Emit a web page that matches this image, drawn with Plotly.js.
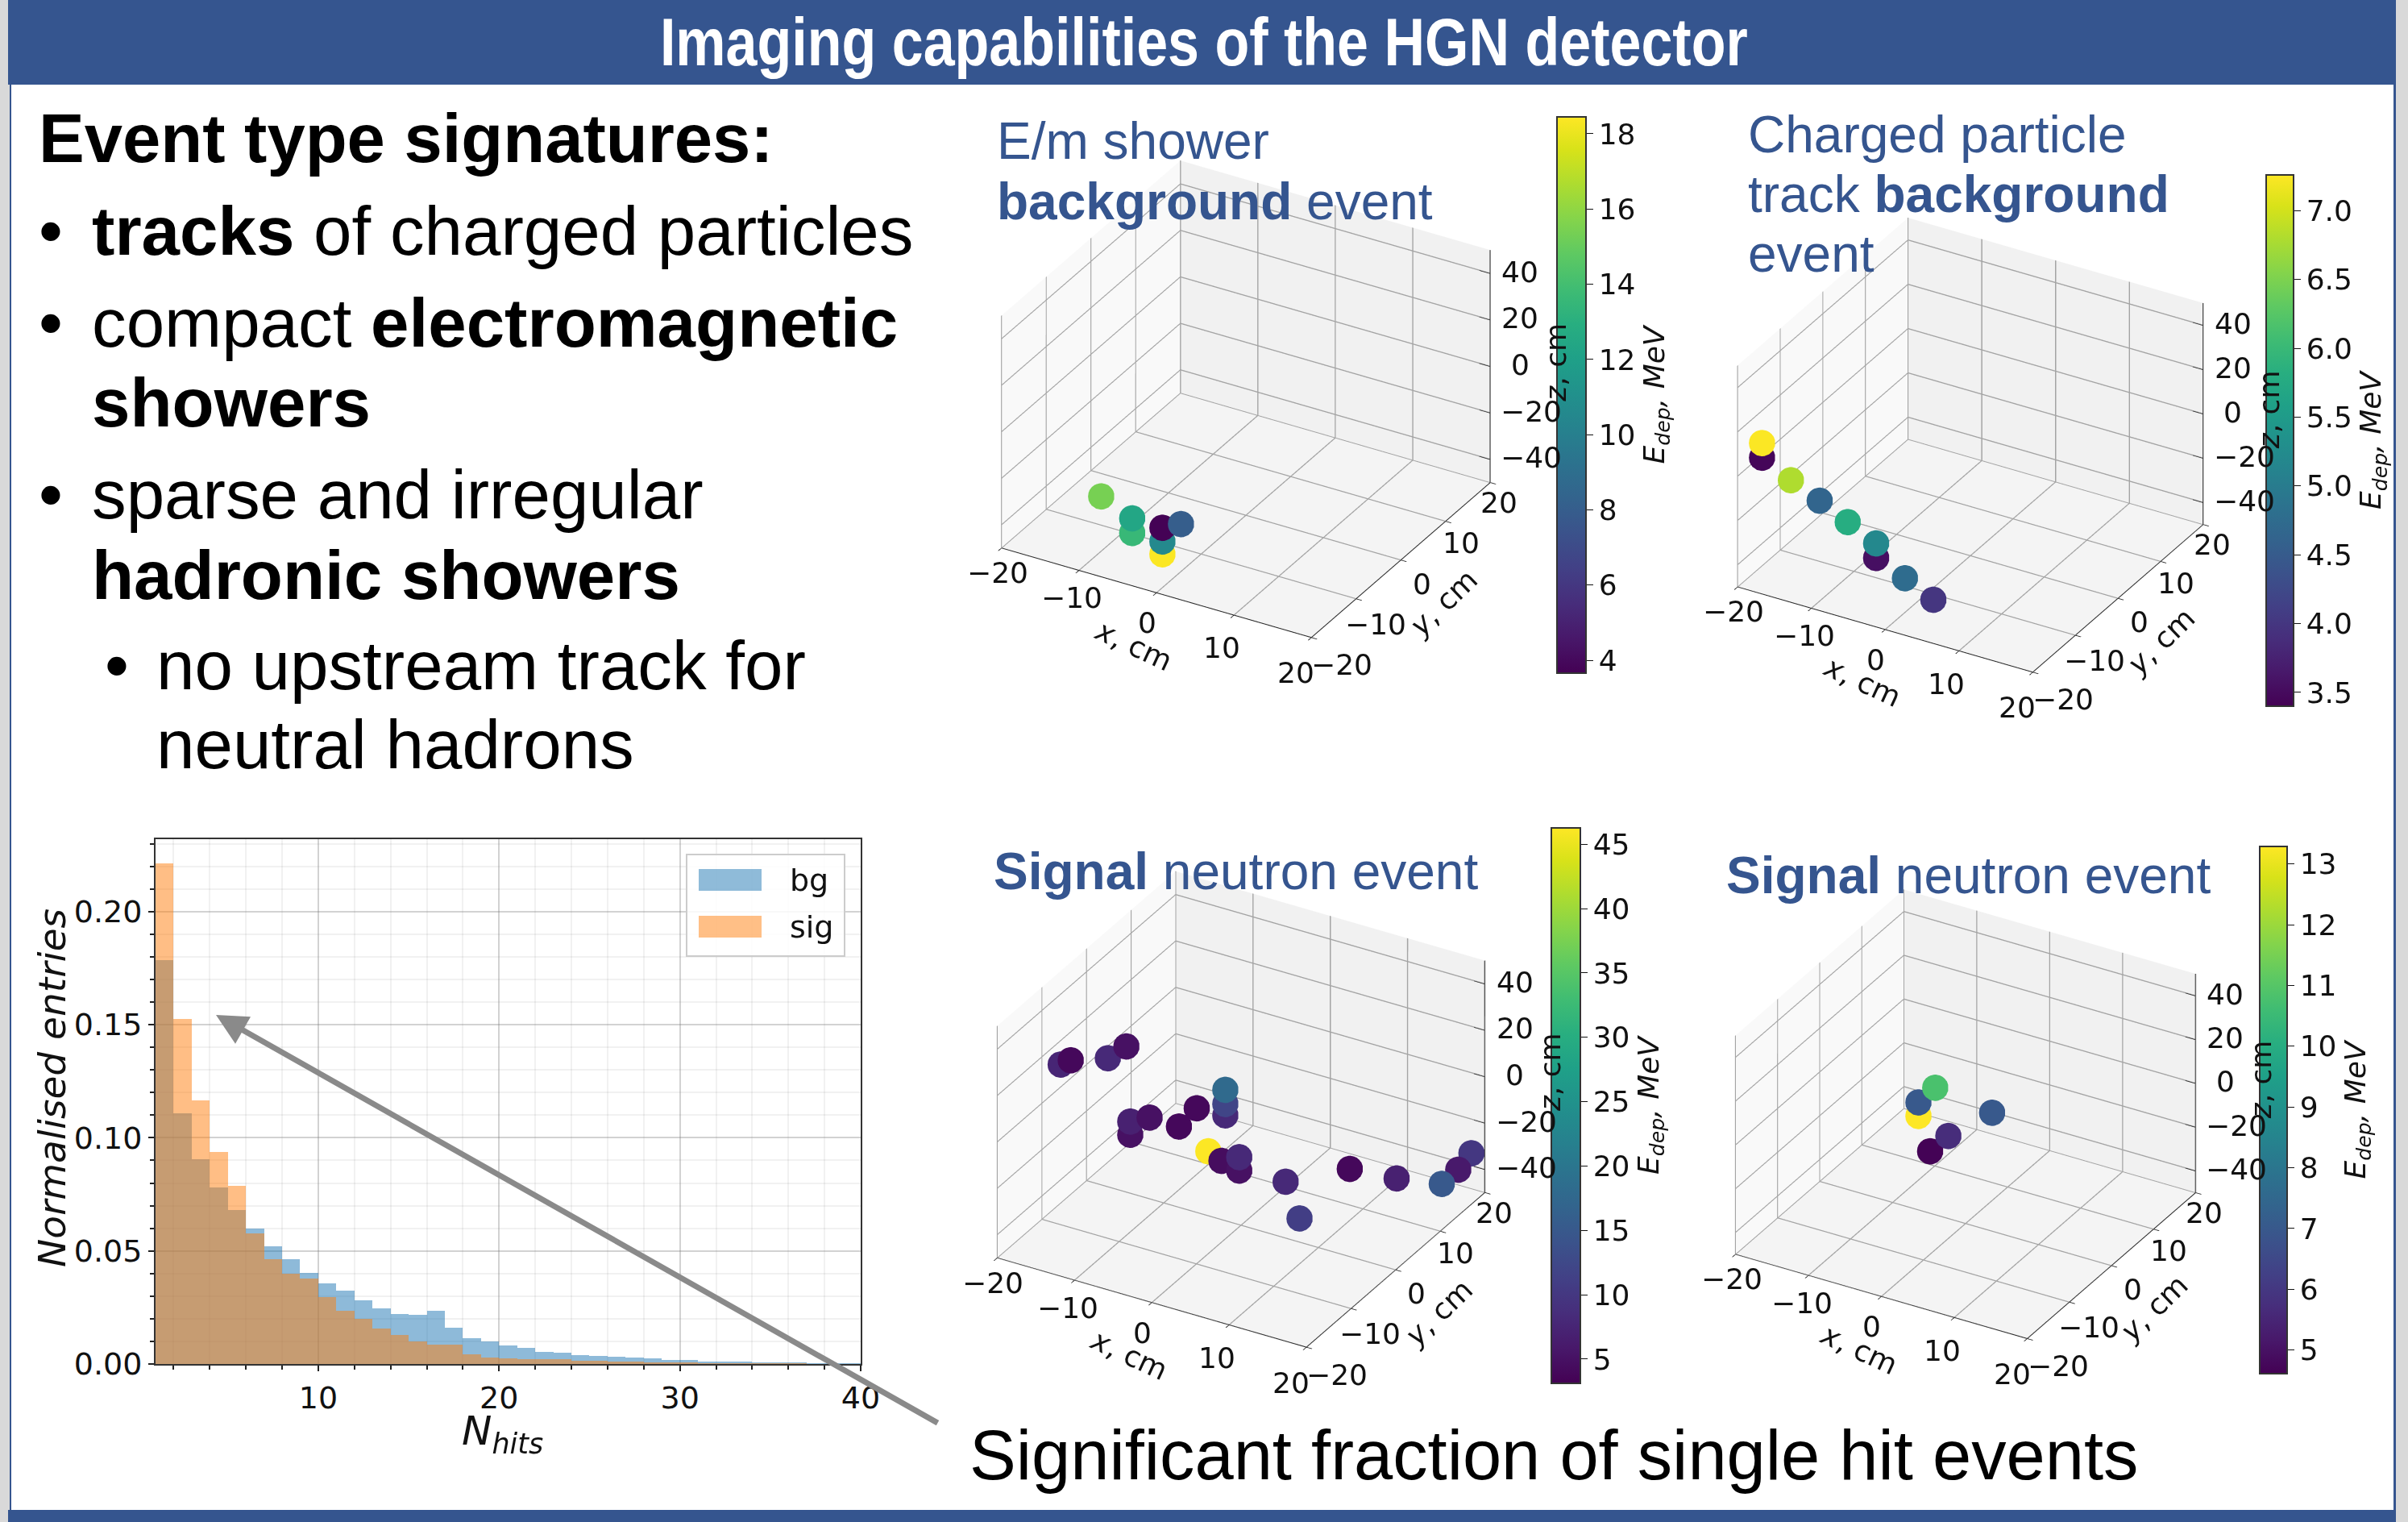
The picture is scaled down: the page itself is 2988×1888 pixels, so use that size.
<!DOCTYPE html>
<html><head><meta charset="utf-8">
<script src="https://cdn.plot.ly/plotly-3.0.1.min.js"></script>
<style>html,body{margin:0;padding:0;background:#fff}</style></head>
<body><div id="chart" style="width:2988px;height:1888px"></div>
<script>
const W=2988,H=1888;
const binStart=[1,2,3,4,5,6,7,8,9,10,11,12,13,14,15,16,17,18,19,20,21,22,23,24,25,26,27,28,29,30,31,32,33,34,35,36,37,38,39];
const bgValues=[0.1786,0.111,0.0905,0.078,0.0681,0.0598,0.0519,0.0463,0.0402,0.0356,0.0323,0.0281,0.0246,0.022,0.0216,0.0236,0.016,0.0115,0.0099,0.0081,0.0071,0.0055,0.0051,0.0038,0.0034,0.0032,0.0028,0.0024,0.0018,0.0018,0.0012,0.0012,0.001,0.0006,0.0004,0.0004,0.0003,0.0002,0.0001];
const sigValues=[0.2212,0.1525,0.1166,0.0939,0.0786,0.0576,0.0465,0.04,0.0378,0.0297,0.0234,0.0198,0.0156,0.0127,0.0101,0.0087,0.0087,0.0042,0.003,0.0026,0.002,0.002,0.002,0.0014,0.0014,0.0012,0.001,0.0008,0.0006,0.0004,0.0003,0.0002,0.0002,0.0001,0.0001,0.0001,0,0,0];

const emX=[-1.0,-1.0,-1.0,-4.9,-4.9,-8.9,1.4];
const emY=[-17,-17,-17,-17,-17,-17,-17];
const emZ=[-39.2,-33.7,-27.8,-33.8,-27.5,-21.9,-23.9];
const emE=[18.4,10.6,3.7,13.6,12.4,15.4,8];

const trX=[-17.3,-17.3,-15.7,-11.8,-8,-4.15,-4.15,-0.25,3.6];
const trY=[-19,-19,-15,-15,-15,-15,-15,-15,-15];
const trZ=[9.5,16.1,-5.8,-11.3,-17.3,-23.2,-29.8,-35.2,-41.2];
const trE=[3.45,7.25,6.8,4.65,5.8,5.2,3.55,4.75,4.0];

const s1X=[-17.6,-16.3,-11.5,-9.1,3.7,3.7,3.7,0,-6.1,-8.6,-8.6,-2.3,1.5,3.2,5.5,5.5,11.5,19.8,17.2,19.4,19.95,19,13.3];
const s1Y=[-10,-10,-10,-10,-10,-10,-10,-10,-10,-10,-10,-10,-10,-10,-10,-10,-10,-10,5,15,17,12,-10];
const s1Z=[19.2,22.3,27.8,35.2,17.8,22.7,28.8,17.3,7.4,3.3,-2.4,7.2,0.2,-2.3,1.5,-4.3,-3.3,10.2,-21.4,-32.2,-27.9,-33.7,-17.4];
const s1E=[7.5,4,8,5,8,12,18,4,5,7,5,4,46.2,4.5,8,5,8,4,7,6,10,15,11];

const s2X=[-4.2,-6.5,-6.5,3.6,-2.4,-4.9];
const s2Y=[0,0,0,0,0,0];
const s2Z=[8.2,-0.7,-6.9,4.3,-12.1,-21.5];
const s2E=[10.8,7,13.29,7,5.7,4.65];

const cbTicks1=[4,6,8,10,12,14,16,18];
const cbTicks2=[3.5,4,4.5,5,5.5,6,6.5,7];
const cbTicks3=[5,10,15,20,25,30,35,40,45];
const cbTicks4=[5,6,7,8,9,10,11,12,13];
const xyTicks=[-20,-10,0,10,20];
const zTicks=[-40,-20,0,20,40];

const BLUE='#35558f';
const px=x=>x/W, py=y=>1-y/H;
const EYE_NORM=2.0;
const eye={x:0.433*EYE_NORM,y:-0.75*EYE_NORM,z:0.5*EYE_NORM};
const lab=v=>String(v).replace('-','\u2212');
const TF={family:'DejaVu Sans',size:36,color:'#111'};
const yLabelShift={'-20':38,'-10':24,'0':26,'10':19,'20':11};

function sceneAnnots(){
  const out=[];
  const a=(x,y,z,text,xs,ys,extra)=>out.push(Object.assign({x:x,y:y,z:z,text:text,showarrow:false,xshift:xs,yshift:-ys,xanchor:'center',yanchor:'middle',font:TF},extra||{}));
  xyTicks.forEach(v=>a(v,-20,-50,lab(v),-12-v*0.35,44-(20-v)*0.33));
  xyTicks.forEach(v=>a(20,v,-50,lab(v),yLabelShift[v],40-(10.5+v*0.225)));
  zTicks.forEach(v=>a(20,20,v,lab(v),v<0?51:37,-2));
  a(0,-20,-50,'<i>x</i>, cm',-28,65,{textangle:25});
  a(20,0,-50,'<i>y</i>, cm',53,53,{textangle:-44});
  a(20,20,0,'<i>z</i>, cm',81,-5,{textangle:-90});
  return out;
}
function scene(cx,cy,half){
  const ax=(ticks,range,bg,line)=>({title:{text:''},showticklabels:false,
    range:range,tickvals:ticks,showbackground:true,backgroundcolor:bg,
    gridcolor:'#a4a4a4',gridwidth:3,zeroline:false,showline:line,linecolor:'#222',linewidth:2,
    ticks:line?'outside':'',ticklen:8,tickcolor:'#222',tickwidth:2,showspikes:false});
  return {domain:{x:[px(cx-half),px(cx+half)],y:[py(cy+half),py(cy-half)]},
    bgcolor:'rgba(0,0,0,0)',
    aspectmode:'manual',aspectratio:{x:1,y:1,z:0.75},
    camera:{eye:eye,center:{x:0,y:0,z:0},up:{x:0,y:0,z:1},projection:{type:'orthographic'}},
    xaxis:ax(xyTicks,[-20,20],'#f9f9f9',true),
    yaxis:ax(xyTicks,[-20,20],'#f1f1f1',true),
    zaxis:ax(zTicks,[-50,50],'#f4f4f4',false),
    annotations:sceneAnnots()};
}
function zAxisTrace(sc){
  const X=[20],Y=[20],Z=[-50];
  X.push(20);Y.push(20);Z.push(50);X.push(null);Y.push(null);Z.push(null);
  zTicks.forEach(v=>{X.push(18.6,20,null);Y.push(20,20,null);Z.push(v,v,null);});
  return {type:'scatter3d',mode:'lines',scene:sc,x:X,y:Y,z:Z,showlegend:false,hoverinfo:'skip',line:{color:'#222',width:3}};
}
function pts(sc,X,Y,Z,E,ticks,cb){
  return {type:'scatter3d',mode:'markers',scene:sc,x:X,y:Y,z:Z,showlegend:false,
    marker:{size:19,color:E,colorscale:'Viridis',cmin:cb.min,cmax:cb.max,opacity:1,line:{width:0},
      colorbar:{x:px(cb.l),xanchor:'left',xref:'paper',y:py(cb.b),yanchor:'bottom',yref:'paper',
        len:(cb.b-cb.t),lenmode:'pixels',thickness:cb.r-cb.l,thicknessmode:'pixels',
        tickvals:ticks,ticks:'outside',ticklen:8,tickcolor:'#111',tickfont:TF,
        outlinecolor:'#333',outlinewidth:2,xpad:0,ypad:0,
        tickformat:cb.fmt||'',
        title:{text:'<i>E<sub>dep</sub>, MeV</i>',side:'right',font:{family:'DejaVu Sans',size:36,color:'#111'}}}}};
}
const data=[
 {type:'bar',x:binStart,y:bgValues,width:1,offset:0,name:'bg',marker:{color:'#1f77b4',line:{width:0}},opacity:0.5,showlegend:false},
 {type:'bar',x:binStart,y:sigValues,width:1,offset:0,name:'sig',marker:{color:'#ff7f0e',line:{width:0}},opacity:0.5,showlegend:false},
 pts('scene',emX,emY,emZ,emE,cbTicks1,{l:1932,r:1968,t:145,b:835,min:3.66,max:18.45}),
 pts('scene2',trX,trY,trZ,trE,cbTicks2,{l:2812,r:2846,t:217,b:876,min:3.40,max:7.26,fmt:'.1f'}),
 pts('scene3',s1X,s1Y,s1Z,s1E,cbTicks3,{l:1925,r:1961,t:1027,b:1716,min:3.12,max:46.27}),
 pts('scene4',s2X,s2Y,s2Z,s2E,cbTicks4,{l:2804,r:2838,t:1050,b:1704,min:4.61,max:13.29}),
 zAxisTrace('scene'),zAxisTrace('scene2'),zAxisTrace('scene3'),zAxisTrace('scene4')
];
function T(text,x,y,size,color,opts){
  return Object.assign({text:text,xref:'paper',yref:'paper',x:px(x),y:py(y),xanchor:'left',yanchor:'middle',showarrow:false,
    font:{family:'Liberation Sans',size:size,color:color||'#000'}},opts||{});
}
const body=85.3, sub=64;
const DJ=(s)=>({family:'DejaVu Sans',size:s,color:'#111'});
const annotations=[
 T('<b>Imaging capabilities of the HGN detector</b>',1494,52,84,'#fff',{xanchor:'center'}),
 T('<b>Event type signatures:</b>',46,172,85),
 T('\u2022',46,286,body), T('<b>tracks</b> of charged particles',112,286,body),
 T('\u2022',46,400,body), T('compact <b>electromagnetic</b>',112,400,body),
 T('<b>showers</b>',112,499,body),
 T('\u2022',46,614,body), T('sparse and irregular',112,614,body),
 T('<b>hadronic showers</b>',112,713,body),
 T('\u2022',128,825,body), T('no upstream track for',192,825,body),
 T('neutral hadrons',192,924,body),
 T('Significant fraction of single hit events',1201,1805,86.7),
 T('E/m shower',1235,175,sub,BLUE), T('<b>background</b> event',1235,250,sub,BLUE),
 T('Charged particle',2167,167,sub,BLUE), T('track <b>background</b>',2167,241,sub,BLUE), T('event',2167,315,sub,BLUE),
 T('<b>Signal</b> neutron event',1231,1081,sub,BLUE), T('<b>Signal</b> neutron event',2140,1086,sub,BLUE),
 T('bg',978,1092,38,'#111',{font:DJ(38)}),
 T('sig',978,1150,38,'#111',{font:DJ(38)}),
 T('<i>Normalised entries</i>',64,1350,48,'#111',{xanchor:'center',font:DJ(47),textangle:-90}),
 T('<i>N<sub>hits</sub></i>',623,1778,50,'#111',{xanchor:'center',font:DJ(50)}),
 {xref:'paper',yref:'paper',axref:'pixel',ayref:'pixel',x:px(268),y:py(1259),ax:1165-268,ay:1766-1259,text:'',showarrow:true,arrowcolor:'#8a8a8a',arrowwidth:7,arrowhead:2,arrowsize:1.1,standoff:0}
];
const R=(x0,x1,y0,y1,fill,extra)=>Object.assign({type:'rect',xref:'paper',yref:'paper',x0:px(x0),x1:px(x1),y0:py(y1),y1:py(y0),fillcolor:fill,line:{width:0},layer:'below'},extra||{});
const shapes=[
 R(0,12,0,H,'#d9d9d9'),
 R(2973,W,0,H,'#d9d9d9'),
 R(12,14,0,H,BLUE),
 R(2970,2973,0,H,BLUE),
 R(10,2973,0,105,BLUE),
 R(10,2973,1873,H,BLUE),
 R(852,1048,1060,1186,'rgba(255,255,255,0.85)',{line:{color:'#cccccc',width:2},layer:'above'}),
 R(867,945,1078,1105,'rgba(31,119,180,0.5)',{layer:'above'}),
 R(867,945,1136,1163,'rgba(255,127,14,0.5)',{layer:'above'})
];
const layout={width:W,height:H,autosize:false,margin:{l:0,r:0,t:0,b:0,pad:0},paper_bgcolor:'#fff',plot_bgcolor:'#fff',
 barmode:'overlay',bargap:0,showlegend:false,font:{family:'DejaVu Sans',color:'#111'},
 xaxis:{domain:[px(193),px(1068)],range:[1,40],tickvals:[10,20,30,40],ticks:'outside',ticklen:7,tickwidth:2,tickcolor:'#222',
   tickfont:{size:38},showgrid:true,gridcolor:'rgba(120,120,120,0.25)',gridwidth:2,zeroline:false,
   showline:true,linecolor:'#333',linewidth:2,mirror:true,
   minor:{dtick:2,tick0:0,showgrid:true,gridcolor:'rgba(120,120,120,0.1)',gridwidth:2,ticks:'outside',ticklen:5,tickcolor:'#222'}},
 yaxis:{domain:[py(1692),py(1041)],range:[0,0.232],tickvals:[0,0.05,0.1,0.15,0.2],tickformat:'.2f',ticks:'outside',ticklen:7,tickwidth:2,tickcolor:'#222',
   tickfont:{size:38},showgrid:true,gridcolor:'rgba(120,120,120,0.25)',gridwidth:2,zeroline:false,
   showline:true,linecolor:'#333',linewidth:2,mirror:true,
   minor:{dtick:0.01,tick0:0,showgrid:true,gridcolor:'rgba(120,120,120,0.1)',gridwidth:2,ticks:'outside',ticklen:5,tickcolor:'#222'}},
 scene:scene(1546,495,444),scene2:scene(2445,552,423),scene3:scene(1540,1376,443),scene4:scene(2439,1382,418),
 annotations:annotations,shapes:shapes};
Plotly.newPlot('chart',data,layout,{displayModeBar:false}).then(()=>{
  const t=document.querySelector('.annotation text');
  if(t){const b=t.getBBox();const cx=b.x+b.width/2;t.setAttribute('transform','translate('+cx+',0) scale('+(1350/b.width)+',1) translate('+(-cx)+',0)');}
  document.querySelectorAll('.colorbar').forEach(el=>el.parentNode.appendChild(el));
});
</script></body></html>
